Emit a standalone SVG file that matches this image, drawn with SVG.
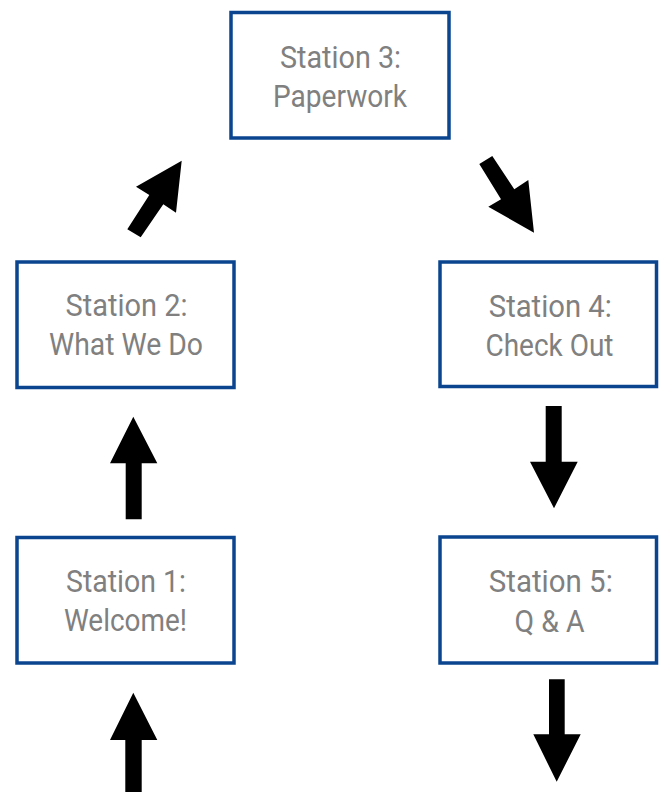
<svg xmlns="http://www.w3.org/2000/svg" width="665" height="792" viewBox="0 0 665 792">
<style>
.box{fill:#fff;stroke:#0b4590;stroke-width:3.5}
.lbl{font-family:Roboto,"Liberation Sans",sans-serif;font-size:31px;fill:#808080;text-anchor:middle}
.arr{fill:#000}
</style>
<rect width="665" height="792" fill="#fff"/>
<g id="station3">
<rect class="box" x="231" y="12.5" width="218" height="125.5"/>
<text class="lbl" x="340.5" y="68" textLength="121" lengthAdjust="spacingAndGlyphs">Station 3:</text>
<text class="lbl" x="340" y="106.5" textLength="134" lengthAdjust="spacingAndGlyphs">Paperwork</text>
</g>
<g id="station2">
<rect class="box" x="17" y="262" width="217" height="125.5"/>
<text class="lbl" x="126.5" y="316" textLength="122" lengthAdjust="spacingAndGlyphs">Station 2:</text>
<text class="lbl" x="126" y="355" textLength="154" lengthAdjust="spacingAndGlyphs">What We Do</text>
</g>
<g id="station4">
<rect class="box" x="440" y="262" width="216.5" height="124.5"/>
<text class="lbl" x="550.3" y="316.5" textLength="123" lengthAdjust="spacingAndGlyphs">Station 4:</text>
<text class="lbl" x="549.5" y="356" textLength="128" lengthAdjust="spacingAndGlyphs">Check Out</text>
</g>
<g id="station1">
<rect class="box" x="17" y="537.5" width="217" height="125.5"/>
<text class="lbl" x="126" y="592" textLength="120" lengthAdjust="spacingAndGlyphs">Station 1:</text>
<text class="lbl" x="125.5" y="631" textLength="123" lengthAdjust="spacingAndGlyphs">Welcome!</text>
</g>
<g id="station5">
<rect class="box" x="440" y="537" width="216.5" height="126"/>
<text class="lbl" x="550.8" y="592" textLength="124" lengthAdjust="spacingAndGlyphs">Station 5:</text>
<text class="lbl" x="549.5" y="631.5" textLength="70" lengthAdjust="spacingAndGlyphs">Q &amp; A</text>
</g>
<g id="connectors">
<polygon class="arr" points="125.3,792 125.3,740 110,740 133.3,692.7 157.3,740 141.7,740 141.7,792"/>
<polygon class="arr" points="125.7,519.3 125.7,463.3 110,463.3 133.3,416.7 157.3,463.3 141.7,463.3 141.7,519.3"/>
<polygon class="arr" points="127.3,229.3 149.3,195 136,186.7 181.7,160.7 176,212.7 163.3,204.3 140.7,237.3"/>
<polygon class="arr" points="479.3,164 492.3,156 514.3,189.3 528.3,180 534,232.7 488.3,206.7 501,199.3"/>
<polygon class="arr" points="545.7,406 561.7,406 561.7,461.7 577.7,461.7 554,508.3 530,461.7 545.7,461.7"/>
<polygon class="arr" points="549,679.3 564.7,679.3 564.7,734.3 580.7,734.3 556.7,781.7 533.3,734.3 549,734.3"/>
</g>
</svg>
